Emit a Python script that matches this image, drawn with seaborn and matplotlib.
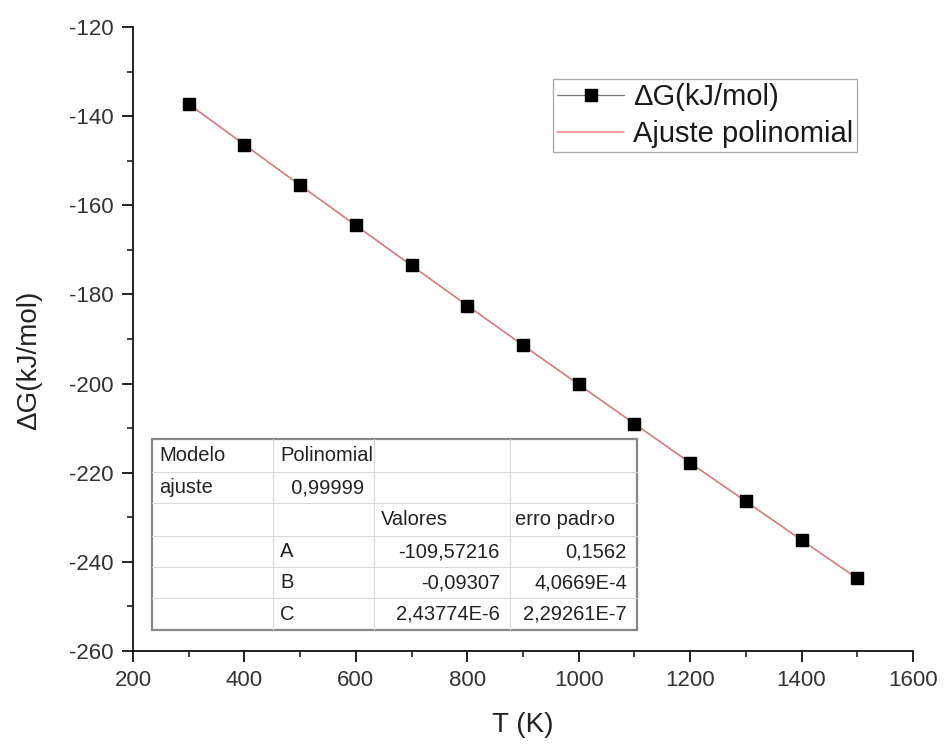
import numpy as np
import pandas as pd
import matplotlib
matplotlib.use("Agg")
import matplotlib.pyplot as plt
import seaborn as sns
from matplotlib.ticker import MultipleLocator
from matplotlib.lines import Line2D

# ---- data ----
T_K = [300, 400, 500, 600, 700, 800, 900, 1000, 1100, 1200, 1300, 1400, 1500]
dG = [-137.3, -146.4, -155.5, -164.5, -173.5, -182.5, -191.4, -200.2,
      -209.0, -217.8, -226.4, -235.1, -243.7]

series_label = "\u0394G(kJ/mol)"
fit_label = "Ajuste polinomial"
x_label = "T (K)"
y_label = "\u0394G(kJ/mol)"

table_rows = [
    ["Modelo", "Polinomial", "", ""],
    ["ajuste", "  0,99999", "", ""],
    ["", "", "Valores", "erro padr\u203ao"],
    ["", "A", "-109,57216", "0,1562"],
    ["", "B", "-0,09307", "4,0669E-4"],
    ["", "C", "2,43774E-6", "2,29261E-7"],
]

# ---- style ----
sns.set_theme(style="ticks")
plt.rcParams["font.family"] = ["Liberation Sans", "DejaVu Sans"]
plt.rcParams["axes.unicode_minus"] = False

fig = plt.figure(figsize=(9.46, 7.46), dpi=100)
ax = fig.add_axes([0.1406, 0.1273, 0.8245, 0.8365])

df = pd.DataFrame({"T": T_K, "dG": dG})
coef = np.polyfit(df["T"], df["dG"], 2)
xf = np.linspace(min(T_K), max(T_K), 200)
fit_df = pd.DataFrame({"T": xf, "fit": np.polyval(coef, xf)})

sns.lineplot(data=df, x="T", y="dG", ax=ax, color="#555555", lw=0.8,
             marker="s", markersize=9, markerfacecolor="black",
             markeredgecolor="black", zorder=2)
sns.lineplot(data=fit_df, x="T", y="fit", ax=ax, color="#e88080", lw=1.1, zorder=3)
ax.plot(df["T"], df["dG"], ls="none", marker="s", markersize=9,
        color="black", zorder=4)

ax.set_xlim(200, 1600)
ax.set_ylim(-260, -120)
ax.xaxis.set_major_locator(MultipleLocator(200))
ax.xaxis.set_minor_locator(MultipleLocator(100))
ax.yaxis.set_major_locator(MultipleLocator(20))
ax.yaxis.set_minor_locator(MultipleLocator(10))
for s in ["top", "right"]:
    ax.spines[s].set_visible(False)
for s in ["left", "bottom"]:
    ax.spines[s].set_linewidth(1.3)
    ax.spines[s].set_color("#111111")
ax.tick_params(which="major", length=8, width=1.3, labelsize=16,
               colors="#111111", direction="out", pad=6)
ax.tick_params(which="minor", length=4.5, width=1.1, direction="out", colors="#111111")
ax.tick_params(axis="x", labelcolor="#333333")
ax.tick_params(axis="y", labelcolor="#333333")
ax.set_xlabel(x_label, fontsize=20, color="#222222")
ax.set_ylabel(y_label, fontsize=20, color="#222222")
ax.xaxis.set_label_coords(0.5, -0.097)
ax.yaxis.set_label_coords(-0.117, 0.466)

handles = [
    Line2D([], [], color="#777777", lw=0.9, marker="s", markersize=9,
           markerfacecolor="black", markeredgecolor="black"),
    Line2D([], [], color="#f08080", lw=1.1),
]
leg = ax.legend(handles, [series_label, fit_label], loc="upper left",
                bbox_to_anchor=(0.538, 0.917), fontsize=21, frameon=True,
                fancybox=False, handlelength=2.3, handletextpad=0.3,
                borderpad=0.15, labelspacing=0.3, borderaxespad=0)
leg.get_frame().set_edgecolor("#999999")
leg.get_frame().set_linewidth(1.0)
for t in leg.get_texts():
    t.set_color("#1a1a1a")

# ---- table (axes fraction) ----
tr = ax.transAxes
W, H = 780.0, 624.0
def fx(px):
    return (px - 133) / W
def fy(py):
    return (651 - py) / H
col_edges = [152, 273, 374, 510, 637]
row_edges = [439, 472, 503, 536, 567, 598, 630]
ax.add_patch(plt.Rectangle((fx(152), fy(630)), fx(637) - fx(152), fy(439) - fy(630),
                           transform=tr, facecolor="white", edgecolor="#888888",
                           lw=1.6, zorder=5))
for c in col_edges[1:-1]:
    ax.plot([fx(c), fx(c)], [fy(630), fy(439)], transform=tr, color="#d8d8d8",
            lw=0.8, zorder=6)
for r in row_edges[1:-1]:
    ax.plot([fx(152), fx(637)], [fy(r), fy(r)], transform=tr, color="#d8d8d8",
            lw=0.8, zorder=6)

align = ["left", "left", "right", "right"]
for i, row in enumerate(table_rows):
    yc = (fy(row_edges[i]) + fy(row_edges[i + 1])) / 2
    for j, txt in enumerate(row):
        if not txt:
            continue
        ha = align[j]
        if j >= 2 and i == 2:
            ha = "left"
        if ha == "left":
            xp = fx(col_edges[j] + (5 if j == 3 else 7))
        else:
            xp = fx(col_edges[j + 1] - 10)
        ax.text(xp, yc, txt, transform=tr, ha=ha, va="center", fontsize=14.5,
                color="#222222", zorder=7)

fig.savefig("out.png", dpi=100, facecolor="white")
